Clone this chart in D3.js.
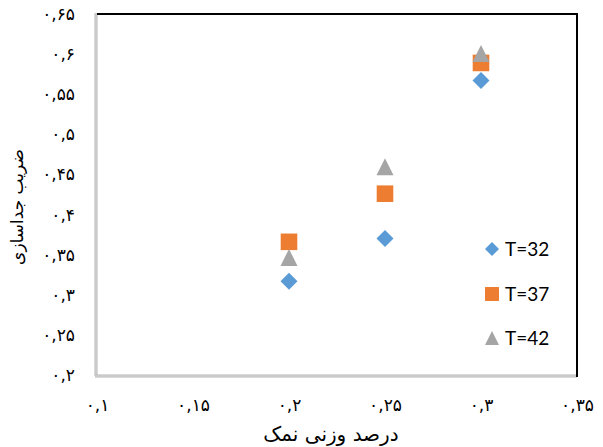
<!DOCTYPE html>
<html><head><meta charset="utf-8">
<script src="https://cdn.jsdelivr.net/npm/d3@7"></script>
<style>body{margin:0;background:#fff;} svg{display:block;}</style>
</head><body>
<div id="chart"></div>
<script>
const xValues = [0.2, 0.25, 0.3];
const seriesNames = ["T=32", "T=37", "T=42"];
const t32 = [0.317, 0.370, 0.567];
const t37 = [0.366, 0.426, 0.589];
const t42 = [0.346, 0.459, 0.600];
const xTicks = [0.1, 0.15, 0.2, 0.25, 0.3, 0.35];
const xTickLabels = ["۰,۱", "۰,۱۵", "۰,۲", "۰,۲۵", "۰,۳", "۰,۳۵"];
const yTicks = [0.2, 0.25, 0.3, 0.35, 0.4, 0.45, 0.5, 0.55, 0.6, 0.65];
const yTickLabels = ["۰,۲", "۰,۲۵", "۰,۳", "۰,۳۵", "۰,۴", "۰,۴۵", "۰,۵", "۰,۵۵", "۰,۶", "۰,۶۵"];
const xTitle = "درصد وزنی نمک";
const yTitle = "ضریب جداسازی";

const W = 603, H = 447;
const L = 97, R = 577, T = 14, B = 375;
const svg = d3.select("#chart").append("svg").attr("width", W).attr("height", H);
const x = d3.scaleLinear().domain([0.1, 0.35]).range([L, R]);
const y = d3.scaleLinear().domain([0.2, 0.65]).range([B, T]);
const font = "'DejaVu Sans', sans-serif";

// frame
svg.append("line").attr("x1", L - 1).attr("x2", L - 1).attr("y1", T - 1).attr("y2", B + 1).attr("stroke", "#b4b4b4").attr("stroke-width", 3);
svg.append("line").attr("x1", L - 1).attr("x2", L - 1).attr("y1", T - 1).attr("y2", B + 1).attr("stroke", "#e0e0e0").attr("stroke-width", 1);
svg.append("line").attr("x1", L - 2).attr("x2", R).attr("y1", B + 1).attr("y2", B + 1).attr("stroke", "#b4b4b4").attr("stroke-width", 3);
svg.append("line").attr("x1", L - 2).attr("x2", R).attr("y1", B + 1).attr("y2", B + 1).attr("stroke", "#e0e0e0").attr("stroke-width", 1);
svg.append("line").attr("x1", L).attr("x2", R + 1).attr("y1", T).attr("y2", T).attr("stroke", "#000").attr("stroke-width", 2);
svg.append("line").attr("x1", R).attr("x2", R).attr("y1", T).attr("y2", B + 2).attr("stroke", "#000").attr("stroke-width", 2);

// axes
const xAxis = svg.append("g").attr("transform", `translate(0,${B})`)
  .call(d3.axisBottom(x).tickValues(xTicks).tickSize(0).tickPadding(24)
    .tickFormat((d, i) => xTickLabels[i]));
xAxis.select(".domain").remove();
xAxis.selectAll("text").attr("font-family", font).attr("font-size", 17).attr("fill", "#000");

const yAxis = svg.append("g").attr("transform", `translate(${L},0)`)
  .call(d3.axisLeft(y).tickValues(yTicks).tickSize(0).tickPadding(22)
    .tickFormat((d, i) => yTickLabels[i]));
yAxis.select(".domain").remove();
yAxis.selectAll("text").attr("font-family", font).attr("font-size", 17).attr("fill", "#000");

svg.append("text").attr("x", 331).attr("y", 441).attr("text-anchor", "middle")
  .attr("font-family", font).attr("font-size", 20).text(xTitle);
svg.append("text").attr("transform", "translate(23,207) rotate(-90)").attr("text-anchor", "middle")
  .attr("font-family", font).attr("font-size", 17).text(yTitle);

const colors = ["#5B9BD5", "#ED7D31", "#A5A5A5"];
const series = [t32, t37, t42];
function sym(i) {
  if (i === 0) return "M0,-8.5L8.5,0L0,8.5L-8.5,0Z";
  if (i === 1) return "M-8.3,-8.3H8.3V8.3H-8.3Z";
  return "M0,-9L8.5,8H-8.5Z";
}
series.forEach((vals, si) => {
  svg.append("g").selectAll("path").data(vals).join("path")
    .attr("d", sym(si))
    .attr("transform", (d, i) => `translate(${x(xValues[i])},${y(d)})`)
    .attr("fill", colors[si]);
});

// legend
const legY = [249, 294, 338];
seriesNames.forEach((n, i) => {
  const g = svg.append("g").attr("transform", `translate(492,${legY[i]})`);
  const s = i === 0 ? "M0,-7L7,0L0,7L-7,0Z" : i === 1 ? "M-7,-7H7V7H-7Z" : "M0,-7L7,7H-7Z";
  g.append("path").attr("d", s).attr("fill", colors[i]);
  g.append("text").attr("x", 13).attr("y", 7).attr("font-family", "Lato, sans-serif").attr("font-size", 19).text(n);
});
</script>
</body></html>
